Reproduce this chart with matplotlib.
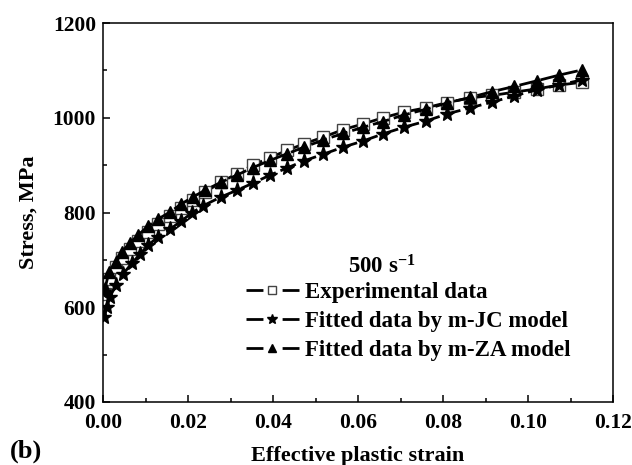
import numpy as np
import matplotlib.pyplot as plt
from matplotlib.ticker import MultipleLocator

plt.rcParams['font.family'] = ['Liberation Serif', 'DejaVu Serif']
plt.rcParams['font.weight'] = 'bold'
plt.rcParams['mathtext.fontset'] = 'custom'
plt.rcParams['mathtext.rm'] = 'Liberation Serif:bold'
plt.rcParams['mathtext.default'] = 'rm'

# experimental data (open squares)
strain_exp = [0.0005, 0.0014, 0.0031, 0.0045, 0.0064, 0.0082, 0.0106, 0.0129, 0.0158, 0.0184,
              0.0212, 0.0240, 0.0278, 0.0315, 0.0353, 0.0393, 0.0433, 0.0473, 0.0518, 0.0565,
              0.0612, 0.0659, 0.0708, 0.0760, 0.0809, 0.0864, 0.0915, 0.0967, 0.1021, 0.1073, 0.1127]
stress_exp = [628, 660, 684, 704, 723, 740, 758, 775, 792, 810,
              826, 843, 864, 882, 900, 916, 931, 945, 959, 975,
              987, 1000, 1012, 1021, 1032, 1042, 1047, 1054, 1061, 1069, 1075]

# m-JC model (stars)
strain_jc = [0.0003, 0.0009, 0.0016, 0.0031, 0.0047, 0.0068, 0.0087, 0.0106, 0.0129, 0.0158,
             0.0184, 0.0209, 0.0235, 0.0278, 0.0315, 0.0353, 0.0393, 0.0433, 0.0473, 0.0518,
             0.0565, 0.0612, 0.0659, 0.0708, 0.0760, 0.0809, 0.0864, 0.0915, 0.0967, 0.1021,
             0.1073, 0.1127]
stress_jc = [579, 600, 622, 647, 670, 693, 712, 731, 748, 765,
             782, 799, 814, 833, 847, 862, 879, 894, 909, 923,
             938, 951, 966, 980, 993, 1008, 1021, 1033, 1046, 1059,
             1069, 1080]

# m-ZA model (triangles)
strain_za = strain_exp
stress_za = [641, 674, 695, 717, 736, 752, 771, 786, 801, 818,
             833, 847, 864, 879, 895, 910, 924, 938, 953, 967,
             980, 992, 1006, 1018, 1031, 1043, 1055, 1066, 1078, 1090, 1101]

fig = plt.figure(figsize=(6.32, 4.65), dpi=100)
ax = fig.add_axes([0.163, 0.1355, 0.807, 0.815])

dash = (6, 1.8)
ax.plot(strain_exp, stress_exp, color='black', lw=2, dashes=dash, marker='s', ms=8,
        mfc='white', mec='#444444', mew=1.0, label='Experimental data')
ax.plot(strain_jc, stress_jc, color='black', lw=2, dashes=dash, marker='*', ms=11,
        mfc='black', mec='black', label='Fitted data by m-JC model')
ax.plot(strain_za, stress_za, color='black', lw=2, dashes=dash, marker='^', ms=9,
        mfc='black', mec='black', label='Fitted data by m-ZA model')

ax.set_xlim(0, 0.12)
ax.set_ylim(400, 1200)
ax.xaxis.set_major_locator(MultipleLocator(0.02))
ax.xaxis.set_minor_locator(MultipleLocator(0.01))
ax.yaxis.set_major_locator(MultipleLocator(200))
ax.yaxis.set_minor_locator(MultipleLocator(100))
ax.xaxis.set_major_formatter(plt.FuncFormatter(lambda v, p: f'{v:.2f}'))
ax.tick_params(which='both', direction='in', labelsize=15.5, width=1.1)
ax.tick_params(which='major', length=5, pad=5)
ax.tick_params(axis='x', which='major', pad=8)
ax.tick_params(which='minor', length=3)
for s in ax.spines.values():
    s.set_linewidth(1.1)

ax.set_xlabel('Effective plastic strain', fontsize=16, fontweight='bold', labelpad=9)
ax.set_ylabel('Stress, MPa', fontsize=16, fontweight='bold', labelpad=10)

leg = ax.legend(loc='upper left', bbox_to_anchor=(0.262, 0.34), frameon=False,
                fontsize=16.5, handlelength=2.3, handletextpad=0.3, labelspacing=0.33,
                markerscale=0.65, borderaxespad=0)
for h in leg.legend_handles:
    h.set_dashes((6.1, 6.9))

ax.text(0.547, 0.357, '500 s$^{-1}$', transform=ax.transAxes, ha='center', va='center',
        fontsize=16.5, fontweight='bold')

fig.text(0.015, 0.016, '(b)', fontsize=19, fontweight='bold')

fig.savefig('out.png', dpi=100)
